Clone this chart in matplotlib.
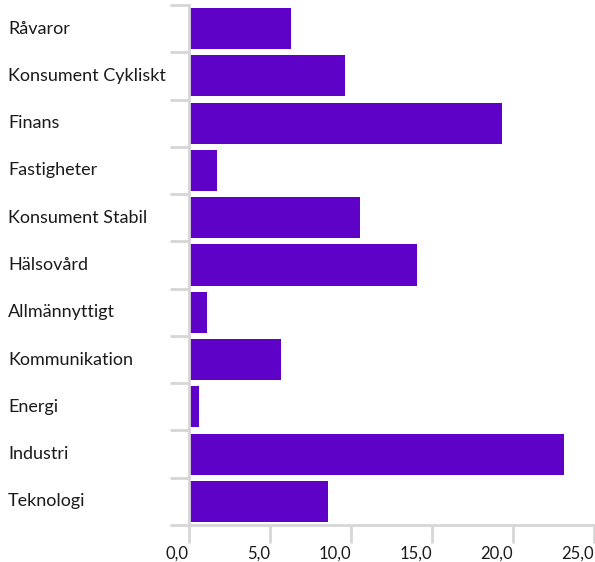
import matplotlib.pyplot as plt
import numpy as np

categories = ["Råvaror", "Konsument Cykliskt", "Finans", "Fastigheter",
              "Konsument Stabil", "Hälsovård", "Allmännyttigt", "Kommunikation",
              "Energi", "Industri", "Teknologi"]
values = [6.3, 9.6, 19.35, 1.7, 10.55, 14.1, 1.1, 5.65, 0.6, 23.15, 8.6]
xticks = [0, 5, 10, 15, 20, 25]
xtick_labels = ["0,0", "5,0", "10,0", "15,0", "20,0", "25,0"]

plt.rcParams['font.family'] = ['Lato', 'DejaVu Sans']

W, H = 595, 562
fig = plt.figure(figsize=(W / 100, H / 100), dpi=100)
ax = fig.add_axes([189 / W, 1 - 525 / H, (594 - 189) / W, (525 - 5) / H])

pos = np.arange(len(categories))
ax.barh(pos, values, height=0.87, color="#5f02c7")
ax.set_ylim(len(categories) - 0.5, -0.5)
ax.set_xlim(0, 25)

grey = "#d6d6d6"
for s in ["top", "right"]:
    ax.spines[s].set_visible(False)
ax.spines["left"].set_color(grey)
ax.spines["bottom"].set_color(grey)
ax.spines["left"].set_linewidth(2)
ax.spines["bottom"].set_linewidth(2)

# category boundary ticks
ax.set_yticks(np.arange(len(categories) + 1) - 0.5, minor=False)
ax.set_yticklabels([])
ax.tick_params(axis="y", length=14, width=2, color=grey)
for i, c in enumerate(categories):
    ax.text(8 / W, ax.transData.transform((0, i))[1] / fig.dpi / (H / 100),
            c, transform=fig.transFigure, ha="left", va="center",
            fontsize=13, color="#1a1a1a")

ax.set_xticks(xticks)
ax.set_xticklabels(xtick_labels, fontsize=12, color="#1a1a1a")
for lbl in ax.get_xticklabels():
    lbl.set_horizontalalignment("right")
ax.tick_params(axis="x", length=13, width=2, color=grey, pad=2)

fig.savefig("out.png", dpi=100)
